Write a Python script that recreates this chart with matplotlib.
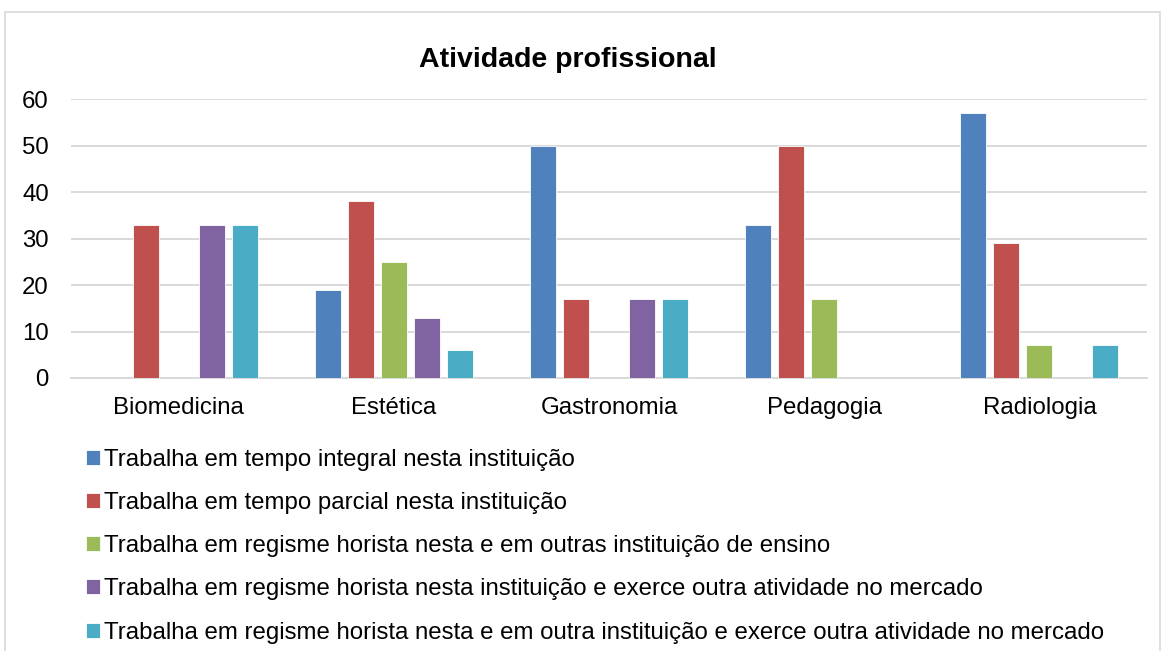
import matplotlib
matplotlib.use("Agg")
import matplotlib.pyplot as plt
from matplotlib.patches import Rectangle
import numpy as np

plt.rcParams['font.family'] = ['Liberation Sans', 'DejaVu Sans']

categories = ["Biomedicina", "Estética", "Gastronomia", "Pedagogia", "Radiologia"]
series_names = [
    "Trabalha em tempo integral nesta instituição",
    "Trabalha em tempo parcial nesta instituição",
    "Trabalha em regisme horista nesta e em outras instituição de ensino",
    "Trabalha em regisme horista nesta instituição e exerce outra atividade no mercado",
    "Trabalha em regisme horista nesta e em outra instituição e exerce outra atividade no mercado",
]
integral = [0, 19, 50, 33, 57]
parcial = [33, 38, 17, 50, 29]
horista_ensino = [0, 25, 0, 17, 7]
horista_mercado = [33, 13, 17, 0, 0]
horista_outra_mercado = [33, 6, 17, 0, 7]
series_values = [integral, parcial, horista_ensino, horista_mercado, horista_outra_mercado]
colors = ["#4F81BD", "#C0504D", "#9BBB59", "#8064A2", "#4BACC6"]
yticks = [0, 10, 20, 30, 40, 50, 60]

W, H = 1167, 651
fig = plt.figure(figsize=(W / 100, H / 100), dpi=100)
ax = fig.add_axes([71 / W, 1 - 378 / H, (1147 - 71) / W, (378 - 99) / H])

x = np.arange(len(categories))
pitch = 0.1535
bw = 0.121
handles = []
for i, (vals, c) in enumerate(zip(series_values, colors)):
    offs = (i - 2) * pitch
    b = ax.bar(x + offs, vals, width=bw, color=c, edgecolor="white", linewidth=0.6, zorder=3)
    handles.append(b)

ax.set_xlim(-0.5, len(categories) - 0.5)
ax.set_ylim(0, 60)
ax.set_yticks(yticks)
ax.set_xticks(x)
ax.set_xticklabels(categories)
ax.grid(axis="y", color="#D9D9D9", linewidth=1.4, zorder=0)
for s in ["top", "right", "left"]:
    ax.spines[s].set_visible(False)
ax.spines["bottom"].set_color("#D9D9D9")
ax.spines["bottom"].set_linewidth(1.4)
ax.tick_params(axis="both", length=0, labelsize=17.3, colors="black")
ax.tick_params(axis="y", pad=16)
ax.tick_params(axis="x", pad=14)

fig.text(568 / W, 1 - 60 / H, "Atividade profissional", ha="center", va="center",
         fontsize=20.5, fontweight="bold")

leg = fig.legend([h[0] for h in handles], series_names, loc="upper left",
                 bbox_to_anchor=(86 / W, 1 - 449 / H), frameon=False, fontsize=17.3,
                 handlelength=0.58, handleheight=0.58, handletextpad=0.18,
                 labelspacing=0.88, borderaxespad=0, borderpad=0)

fig.patches.append(Rectangle((5 / W, -0.1), (1160 - 5) / W, 1.1 - 12 / H,
                             transform=fig.transFigure, fill=False,
                             edgecolor="#D9D9D9", linewidth=1.2))

fig.savefig("out.png", dpi=100)
